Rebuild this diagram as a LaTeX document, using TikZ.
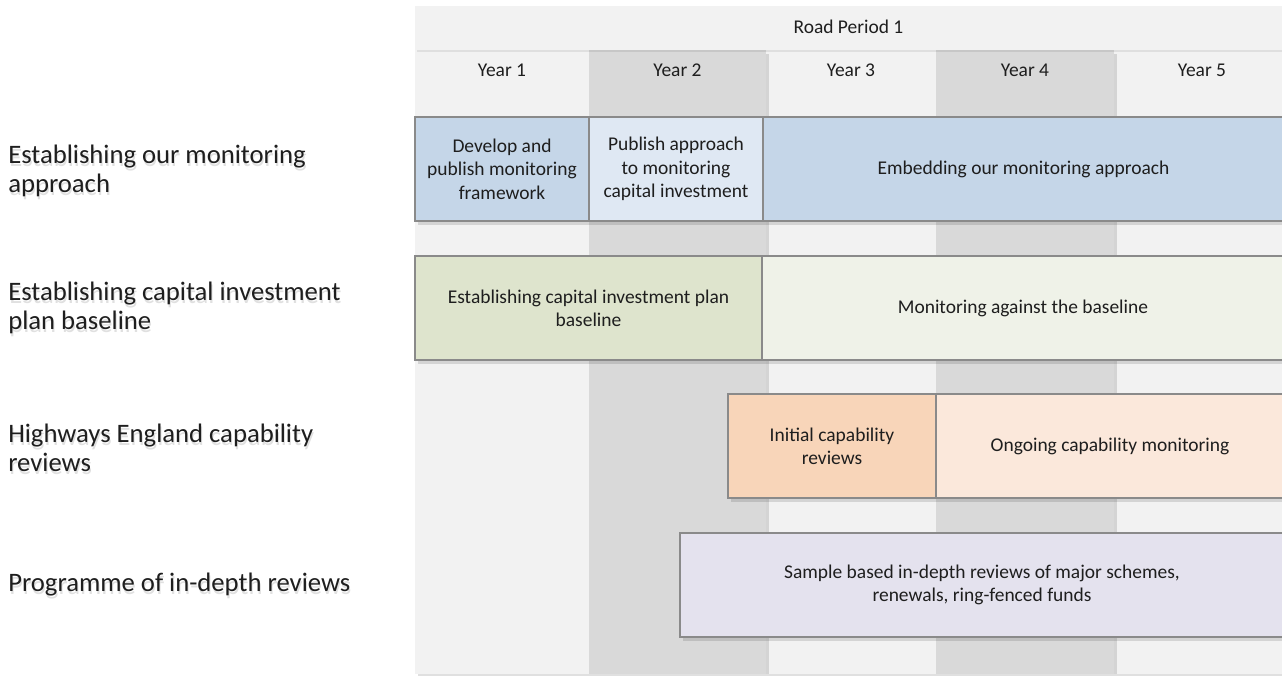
\documentclass[tikz,border=0pt]{standalone}
\usepackage{fontspec}
\setmainfont{Carlito}
\usetikzlibrary{positioning,shadows}

\definecolor{colL}{HTML}{F2F2F2}
\definecolor{colD}{HTML}{D9D9D9}
\definecolor{blueA}{HTML}{C5D6E8}
\definecolor{blueB}{HTML}{DFE8F3}
\definecolor{greenA}{HTML}{DEE4CD}
\definecolor{greenB}{HTML}{EFF2E8}
\definecolor{orangeA}{HTML}{F8D5B9}
\definecolor{orangeB}{HTML}{FBE8DB}
\definecolor{purpleA}{HTML}{E4E2EE}
\definecolor{lineGray}{HTML}{8A8A8A}
\definecolor{txt}{HTML}{1E1E1E}

\newcommand{\boxfont}{\fontsize{14.6}{17.5}\selectfont}
\newcommand{\lblfont}{\fontsize{20}{22.2}\selectfont}

\tikzset{
	boxshade/.style={drop shadow={shadow xshift=2.5pt, shadow yshift=-3pt, opacity=0.12, fill=black}},
	task/.style={draw=lineGray, line width=0.9pt, outer sep=0pt, inner sep=2pt, align=center,
		font=\boxfont, text=txt, minimum height=104*0.75pt, anchor=north west, boxshade},
	yearlbl/.style={font=\boxfont, text=txt, inner sep=0pt},
	lbl/.style={font=\lblfont, text=txt, align=left, anchor=west, inner sep=0pt},
	lblshade/.style={lbl, text=black!12},
}

\begin{document}
\begin{tikzpicture}[x=0.75pt, y=-0.75pt]
	\useasboundingbox (0,0) rectangle (1282,675);
	
	\foreach \i/\xa/\xb/\c in {1/415/589/colL, 3/766/936/colL, 5/1114/1290/colL, 2/589/766/colD, 4/936/1114/colD} {
		\fill[\c, boxshade] (\xa,50) rectangle (\xb,674);
		\node[yearlbl] (y\i) at ({(\xa+\xb)/2},70) {Year \i};
	}
	\fill[colL, drop shadow={shadow xshift=1.5pt, shadow yshift=-1.2pt, opacity=0.08, fill=black}] (415,6) rectangle (1290,50);
	\node[yearlbl] (rp) at (848.5,27) {Road Period 1};
	
	\node[task, fill=blueA, minimum width=174*0.75pt] (dev) at (415,117) {Develop and\\publish monitoring\\framework};
	\node[task, fill=blueB, minimum width=174*0.75pt, right=0pt of dev] (pub) {Publish approach\\to monitoring\\capital investment};
	\node[task, fill=blueA, minimum width=521*0.75pt, right=0pt of pub] (emb) {Embedding our monitoring approach};
	
	\node[task, fill=greenA, minimum width=347*0.75pt] (est) at (415,256) {Establishing capital investment plan\\baseline};
	\node[task, fill=greenB, minimum width=522*0.75pt, right=0pt of est] (mon) {Monitoring against the baseline};
	
	\node[task, fill=orangeA, minimum width=208*0.75pt] (init) at (728,394) {Initial capability\\reviews};
	\node[task, fill=orangeB, minimum width=348*0.75pt, right=0pt of init] (ong) {Ongoing capability monitoring};
	
	\node[task, fill=purpleA, minimum width=604*0.75pt] (samp) at (680,533) {Sample based in-depth reviews of major schemes,\\renewals, ring-fenced funds};
	
	\foreach \n/\y/\t in {1/171/{Establishing our monitoring\\approach}, 2/308/{Establishing capital investment\\plan baseline}, 3/448/{Highways England capability\\reviews}, 4/584.5/{Programme of in-depth reviews}} {
		\node[lblshade] (ls\n) at (9,\y+3) {\t};
		\node[lbl] (l\n) at (8,\y) {\t};
	}
\end{tikzpicture}
\end{document}
